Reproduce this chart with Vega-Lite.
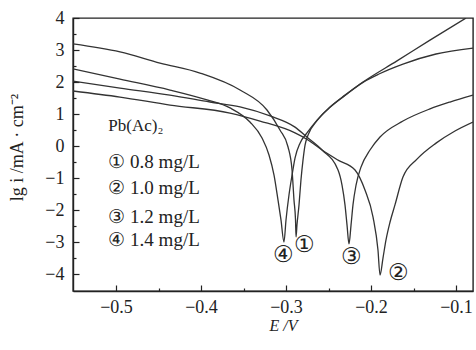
{
  "$schema": "https://vega.github.io/schema/vega-lite/v6.json",
  "width": 400,
  "height": 273,
  "autosize": "none",
  "padding": {"left": 73, "top": 18, "right": 3, "bottom": 59},
  "background": "white",
  "config": {
    "view": {"stroke": "#222", "strokeWidth": 1.4},
    "font": "Liberation Serif",
    "axis": {
      "domainColor": "#222", "tickColor": "#222", "labelColor": "#222", "titleColor": "#222",
      "grid": false, "labelFont": "Liberation Serif", "titleFont": "Liberation Serif",
      "labelFontSize": 18, "titleFontWeight": "normal", "domainWidth": 1.4, "tickWidth": 1.2,
      "labelOverlap": false, "labelFlush": false
    }
  },
  "resolve": {"axis": {"x": "independent", "y": "independent"}},
  "datasets": {
    "curves": [
      {"s":"1","x":-0.5506,"y":3.19},{"s":"1","x":-0.4953,"y":2.94},{"s":"1","x":-0.4482,"y":2.59},{"s":"1","x":-0.4012,"y":2.28},{"s":"1","x":-0.3541,"y":1.75},{"s":"1","x":-0.3224,"y":1.125},{"s":"1","x":-0.3071,"y":0.5},{"s":"1","x":-0.2976,"y":-0.03},{"s":"1","x":-0.2929,"y":-0.75},{"s":"1","x":-0.2906,"y":-1.69},{"s":"1","x":-0.2888,"y":-2.31},{"s":"1","x":-0.2882,"y":-2.84},
      {"s":"1","x":-0.2871,"y":-2.47},{"s":"1","x":-0.2847,"y":-1.84},{"s":"1","x":-0.2824,"y":-1.06},{"s":"1","x":-0.28,"y":-0.44},{"s":"1","x":-0.2776,"y":0.03},{"s":"1","x":-0.2741,"y":0.34},{"s":"1","x":-0.2635,"y":0.79},{"s":"1","x":-0.2482,"y":1.21},{"s":"1","x":-0.2306,"y":1.58},{"s":"1","x":-0.2094,"y":1.99},{"s":"1","x":-0.1906,"y":2.25},{"s":"1","x":-0.1624,"y":2.56},{"s":"1","x":-0.1235,"y":2.875},{"s":"1","x":-0.08,"y":3.06},
      {"s":"4","x":-0.5506,"y":2.41},{"s":"4","x":-0.4953,"y":2.09},{"s":"4","x":-0.4365,"y":1.75},{"s":"4","x":-0.3929,"y":1.44},{"s":"4","x":-0.3659,"y":1.19},{"s":"4","x":-0.3424,"y":0.75},{"s":"4","x":-0.3282,"y":0.25},{"s":"4","x":-0.32,"y":-0.28},{"s":"4","x":-0.3141,"y":-0.91},{"s":"4","x":-0.3094,"y":-1.69},{"s":"4","x":-0.3059,"y":-2.31},{"s":"4","x":-0.3024,"y":-3.0},
      {"s":"4","x":-0.3,"y":-2.31},{"s":"4","x":-0.2965,"y":-1.53},{"s":"4","x":-0.2929,"y":-0.91},{"s":"4","x":-0.2894,"y":-0.375},{"s":"4","x":-0.2835,"y":0.09},{"s":"4","x":-0.2753,"y":0.41},{"s":"4","x":-0.2635,"y":0.81},{"s":"4","x":-0.2482,"y":1.22},{"s":"4","x":-0.2306,"y":1.59},{"s":"4","x":-0.2094,"y":2.0},{"s":"4","x":-0.1694,"y":2.66},{"s":"4","x":-0.1306,"y":3.31},{"s":"4","x":-0.0882,"y":4.0},
      {"s":"2","x":-0.5506,"y":1.72},{"s":"2","x":-0.4953,"y":1.53},{"s":"2","x":-0.4365,"y":1.28},{"s":"2","x":-0.3659,"y":1.03},{"s":"2","x":-0.3306,"y":0.78},{"s":"2","x":-0.2894,"y":0.41},{"s":"2","x":-0.2741,"y":0.19},{"s":"2","x":-0.2576,"y":-0.125},{"s":"2","x":-0.2388,"y":-0.44},{"s":"2","x":-0.2188,"y":-0.75},{"s":"2","x":-0.2071,"y":-1.375},{"s":"2","x":-0.1976,"y":-2.22},{"s":"2","x":-0.1918,"y":-3.25},{"s":"2","x":-0.1894,"y":-4.03},
      {"s":"2","x":-0.1859,"y":-3.5},{"s":"2","x":-0.1824,"y":-2.94},{"s":"2","x":-0.1776,"y":-2.375},{"s":"2","x":-0.1718,"y":-1.84},{"s":"2","x":-0.1624,"y":-0.97},{"s":"2","x":-0.1459,"y":-0.41},{"s":"2","x":-0.1235,"y":0.09},{"s":"2","x":-0.1012,"y":0.47},{"s":"2","x":-0.08,"y":0.75},
      {"s":"3","x":-0.5506,"y":2.03},{"s":"3","x":-0.4953,"y":1.81},{"s":"3","x":-0.4365,"y":1.59},{"s":"3","x":-0.3894,"y":1.375},{"s":"3","x":-0.3541,"y":1.22},{"s":"3","x":-0.3188,"y":0.94},{"s":"3","x":-0.2894,"y":0.59},{"s":"3","x":-0.2741,"y":0.25},{"s":"3","x":-0.2576,"y":-0.125},{"s":"3","x":-0.2388,"y":-0.75},{"s":"3","x":-0.2341,"y":-1.22},{"s":"3","x":-0.2306,"y":-1.84},{"s":"3","x":-0.2282,"y":-2.47},{"s":"3","x":-0.2259,"y":-3.06},
      {"s":"3","x":-0.2235,"y":-2.47},{"s":"3","x":-0.2212,"y":-1.84},{"s":"3","x":-0.2176,"y":-1.22},{"s":"3","x":-0.2118,"y":-0.66},{"s":"3","x":-0.2012,"y":-0.125},{"s":"3","x":-0.1894,"y":0.28},{"s":"3","x":-0.1624,"y":0.78},{"s":"3","x":-0.1306,"y":1.16},{"s":"3","x":-0.1071,"y":1.375},{"s":"3","x":-0.08,"y":1.59}
    ],
    "title": [
      {"t":"Pb(Ac)₂","x":-0.509,"y":0.62}
    ],
    "notes": [
      {"t":"① 0.8 mg/L","x":-0.509,"y":-0.5},
      {"t":"② 1.0 mg/L","x":-0.509,"y":-1.31},
      {"t":"③ 1.2 mg/L","x":-0.509,"y":-2.22},
      {"t":"④ 1.4 mg/L","x":-0.509,"y":-2.94}
    ],
    "dips": [
      {"t":"④","x":-0.3024,"y":-3.41},
      {"t":"①","x":-0.2788,"y":-3.09},
      {"t":"③","x":-0.2235,"y":-3.47},
      {"t":"②","x":-0.1682,"y":-3.97}
    ]
  },
  "layer": [
    {
      "data": {"name": "curves"},
      "mark": {"type": "line", "clip": true, "interpolate": "monotone", "color": "#333", "strokeWidth": 1.3},
      "encoding": {
        "x": {
          "field": "x", "type": "quantitative",
          "scale": {"domain": [-0.5506, -0.08], "nice": false, "zero": false},
          "axis": {
            "title": "E /V", "titleFontSize": 16, "titleFontStyle": "italic",
            "titleX": 210, "titleY": 34, "titleBaseline": "middle",
            "values": [-0.5, -0.4, -0.3, -0.2, -0.1],
            "format": ".1f", "tickSize": -6,
            "labelPadding": 13, "labelFlush": false, "labelOverlap": false
          }
        },
        "y": {
          "field": "y", "type": "quantitative",
          "scale": {"domain": [-4.53, 4], "nice": false, "zero": false},
          "axis": {
            "title": "lg i /mA · cm⁻²", "titleFontSize": 18,
            "titleX": -56, "titleY": 129, "titleBaseline": "middle", "titleAlign": "center",
            "values": [-4, -3, -2, -1, 0, 1, 2, 3, 4],
            "format": ".0f", "tickSize": -6,
            "labelPadding": 15, "labelFlush": false, "labelOverlap": false
          }
        },
        "detail": {"field": "s"}
      }
    },
    {
      "data": {"name": "title"},
      "mark": {"type": "text", "align": "left", "baseline": "middle", "fontSize": 17, "font": "Liberation Serif", "color": "#222"},
      "encoding": {
        "x": {"field": "x", "type": "quantitative", "axis": null},
        "y": {"field": "y", "type": "quantitative", "axis": null},
        "text": {"field": "t"}
      }
    },
    {
      "data": {"name": "notes"},
      "mark": {"type": "text", "align": "left", "baseline": "middle", "fontSize": 19, "font": "Liberation Serif", "color": "#222"},
      "encoding": {
        "x": {"field": "x", "type": "quantitative", "axis": null},
        "y": {"field": "y", "type": "quantitative", "axis": null},
        "text": {"field": "t"}
      }
    },
    {
      "data": {"name": "dips"},
      "mark": {"type": "text", "align": "center", "baseline": "middle", "fontSize": 23, "font": "Liberation Serif", "color": "#222"},
      "encoding": {
        "x": {"field": "x", "type": "quantitative", "axis": {"values": [-0.45, -0.35, -0.25, -0.15], "labels": false, "domain": false, "title": null, "tickSize": -3, "orient": "bottom"}},
        "y": {"field": "y", "type": "quantitative", "axis": {"values": [-3.5, -2.5, -1.5, -0.5, 0.5, 1.5, 2.5, 3.5], "labels": false, "domain": false, "title": null, "tickSize": -3, "orient": "left"}},
        "text": {"field": "t"}
      }
    }
  ]
}
